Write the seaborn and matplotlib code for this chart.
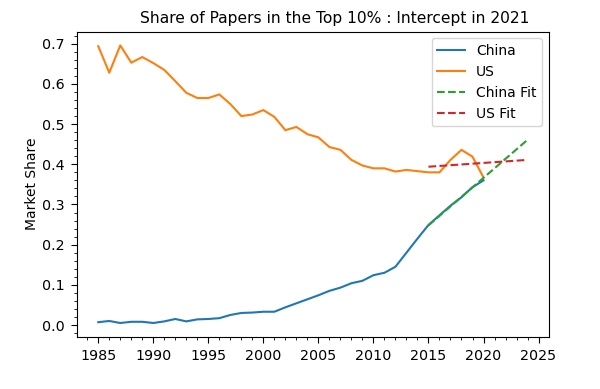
import matplotlib
matplotlib.use("Agg")
import matplotlib.pyplot as plt
import seaborn as sns
import pandas as pd

#### Data ####################################

years = list(range(1985, 2021))

china_share = [0.007, 0.010, 0.005, 0.008, 0.008, 0.005, 0.009, 0.015, 0.009, 0.014,
               0.015, 0.017, 0.025, 0.030, 0.031, 0.033, 0.033, 0.044, 0.054, 0.064,
               0.074, 0.085, 0.093, 0.104, 0.110, 0.124, 0.130, 0.145, 0.180, 0.215,
               0.249, 0.273, 0.297, 0.318, 0.343, 0.360]

us_share = [0.694, 0.628, 0.696, 0.653, 0.667, 0.652, 0.635, 0.607, 0.578, 0.565,
            0.565, 0.574, 0.550, 0.520, 0.524, 0.535, 0.518, 0.485, 0.493, 0.475,
            0.467, 0.443, 0.436, 0.411, 0.397, 0.390, 0.390, 0.382, 0.386, 0.383,
            0.380, 0.380, 0.411, 0.436, 0.419, 0.367]

fit_years = [2015, 2024]
china_fit = [0.248, 0.461]
us_fit = [0.394, 0.411]

df = pd.DataFrame({"year": years, "China": china_share, "US": us_share})
fit_df = pd.DataFrame({"year": fit_years, "China Fit": china_fit, "US Fit": us_fit})

#### Plot #######

fig = plt.figure(figsize=(6, 3.89), dpi=100)
ax = fig.add_axes([0.128, 0.134, 0.787, 0.785])

sns.lineplot(x="year", y="China", data=df, color="C0", label="China", ax=ax)
sns.lineplot(x="year", y="US", data=df, color="C1", label="US", ax=ax)
sns.lineplot(x="year", y="China Fit", data=fit_df, color="C2", linestyle="--",
             label="China Fit", ax=ax)
sns.lineplot(x="year", y="US Fit", data=fit_df, color="C3", linestyle="--",
             label="US Fit", ax=ax)

ax.set_title("Share of Papers in the Top 10% : Intercept in 2021", fontsize=11.2,
             x=0.547, pad=6)
ax.set_ylabel("Market Share", fontsize=10, labelpad=2)
ax.set_xlabel("")
ax.set_xticks(range(1985, 2026, 5))
ax.minorticks_on()
ax.tick_params(labelsize=10.3, length=4.5, pad=4.5)
ax.tick_params(which="minor", length=2.5)
ax.legend(loc="upper right", fontsize=10)

fig.savefig("out.png", dpi=100)
